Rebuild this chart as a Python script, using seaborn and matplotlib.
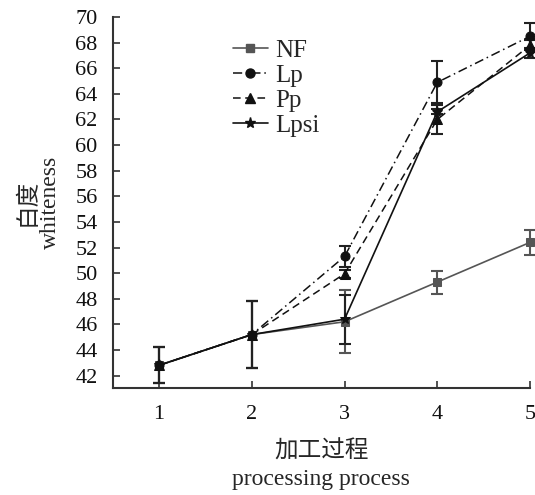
import numpy as np
import pandas as pd
import matplotlib
matplotlib.use("Agg")
import matplotlib.pyplot as plt
import seaborn as sns
from matplotlib.lines import Line2D

steps = [1, 2, 3, 4, 5]
series = ["NF", "Lp", "Pp", "Lpsi"]
nf = [42.8, 45.2, 46.2, 49.3, 52.4]
lp = [42.8, 45.2, 51.3, 64.9, 68.5]
pp = [42.8, 45.2, 49.95, 62.0, 67.8]
lpsi = [42.8, 45.2, 46.4, 62.6, 67.2]
nf_err = [1.4, 2.65, 2.45, 0.9, 0.95]
lp_err = [1.4, 2.65, 0.8, 1.65, 1.0]
pp_err = [1.4, 2.65, 0.3, 1.15, 0.4]
lpsi_err = [1.4, 2.65, 1.9, 0.2, 0.4]

values = {"NF": nf, "Lp": lp, "Pp": pp, "Lpsi": lpsi}
errors = {"NF": nf_err, "Lp": lp_err, "Pp": pp_err, "Lpsi": lpsi_err}

df = pd.DataFrame([
    {"step": s, "series": name, "value": v}
    for name in series for s, v in zip(steps, values[name])
])

sns.set_theme(style="ticks")
plt.rcParams["font.family"] = ["Liberation Serif", "Noto Sans CJK SC", "DejaVu Sans"]

fig = plt.figure(figsize=(5.35, 4.95), dpi=100)
ax = fig.add_axes([0.2107, 0.2155, 0.78, 0.75])

colors = {"NF": "#555555", "Lp": "#111111", "Pp": "#111111", "Lpsi": "#111111"}
markers = {"NF": "s", "Lp": "o", "Pp": "^", "Lpsi": "*"}
dashes = {"NF": "", "Lp": (6, 2.5, 1, 2.5), "Pp": (5, 3), "Lpsi": ""}
msizes = {"NF": 6, "Lp": 6.5, "Pp": 7, "Lpsi": 8}
lws = {"NF": 1.2, "Lp": 1.1, "Pp": 1.1, "Lpsi": 1.2}

for name in series:
    sub = df[df["series"] == name]
    ax.errorbar(sub["step"], sub["value"], yerr=errors[name], fmt="none",
                ecolor=colors[name] if name == "NF" else "#222222",
                elinewidth=1.5, capsize=4, capthick=1.5, zorder=2, clip_on=False)
for name in series:
    sub = df[df["series"] == name]
    sns.lineplot(data=sub, x="step", y="value", ax=ax, color=colors[name],
                 marker=markers[name], markersize=msizes[name],
                 markeredgecolor=colors[name], linewidth=lws[name],
                 legend=False, zorder=3, clip_on=False)

for line, name in zip(ax.lines[-4:], series):
    if dashes[name]:
        line.set_dashes(dashes[name])
    else:
        line.set_linestyle("-")

handles = []
for name in series:
    h = Line2D([0], [0], color=colors[name], marker=markers[name],
               markersize=msizes[name], linewidth=lws[name],
               linestyle="-" if not dashes[name] else (0, dashes[name]))
    handles.append(h)
leg = ax.legend(handles, series, loc="upper left", bbox_to_anchor=(0.288, 0.94),
                frameon=False, fontsize=18, handlelength=1.4, handletextpad=0.3,
                labelspacing=0.1, borderpad=0, borderaxespad=0)

ax.set_xlim(0.5, 5.0)
ax.set_ylim(41, 70)
ax.set_xticks(steps)
ax.set_yticks(np.arange(42, 71, 2))
ax.tick_params(axis="both", labelsize=16, direction="in", length=5, width=1.2,
               color="#333333", labelcolor="#111111")
ax.tick_params(axis="y", pad=11)
ax.tick_params(axis="x", pad=12)
for side in ["top", "right"]:
    ax.spines[side].set_visible(False)
for side in ["left", "bottom"]:
    ax.spines[side].set_linewidth(1.5)
    ax.spines[side].set_color("#333333")

ax.set_xlabel("加工过程\nprocessing process", fontsize=17, linespacing=1.4,
              labelpad=12)
ax.set_ylabel("白度\nwhiteness", fontsize=17, linespacing=1.1, labelpad=10)

fig.savefig("out.png", dpi=100)
